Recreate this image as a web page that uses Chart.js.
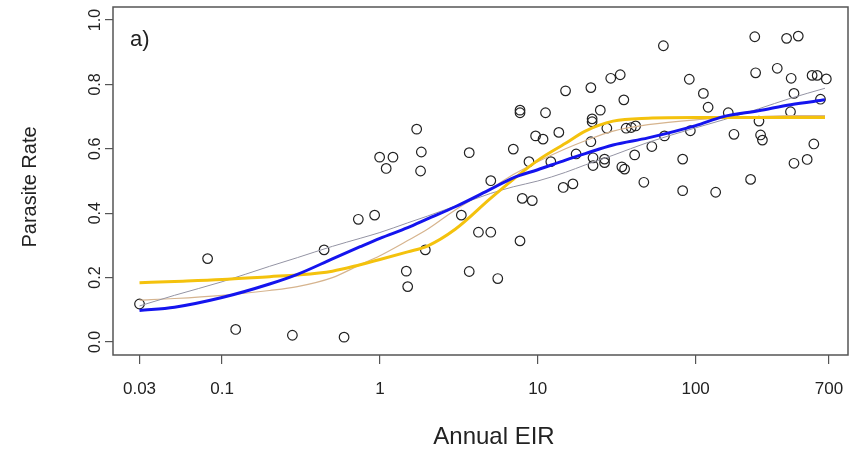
<!DOCTYPE html>
<html>
<head>
<meta charset="utf-8">
<script src="https://cdn.jsdelivr.net/npm/chart.js@4.4.1/dist/chart.umd.min.js"></script>
<style>
  html, body { margin: 0; padding: 0; background: #fff; }
  #wrap { width: 854px; height: 457px; position: relative; }
</style>
</head>
<body>
<div id="wrap"><canvas id="chart"></canvas></div>
<script>
// Observed sites: annual EIR vs parasite rate
const siteEIR = [0.03, 0.081, 0.122, 0.279, 0.593, 0.443, 0.73, 0.926, 0.996, 1.21,
  1.096, 1.71, 1.83, 1.81, 1.94, 1.47, 1.5, 3.28, 3.68, 3.68,
  4.21, 5.04, 5.58, 5.04, 7.72, 7.0, 7.72, 7.72, 7.98, 9.23,
  8.8, 9.69, 10.8, 11.2, 13.6, 15.0, 12.1, 14.5, 16.7, 17.5,
  21.7, 29.0, 33.3, 62.5, 91.2, 35.1, 24.9, 22.1, 22.1, 27.4,
  36.3, 39.1, 41.7, 21.7, 22.4, 22.4, 26.5, 26.5, 34.1, 35.5,
  47.0, 41.1, 52.8, 63.5, 82.8, 82.8, 92.6, 112, 120, 161,
  175, 134, 237, 377, 447, 240, 329, 403, 547, 589,
  673, 420, 399, 252, 258, 265, 561, 509, 420, 223, 618];
const sitePR = [0.118, 0.259, 0.039, 0.021, 0.015, 0.286, 0.381, 0.394, 0.574, 0.574,
  0.539, 0.661, 0.59, 0.531, 0.286, 0.22, 0.172, 0.394, 0.588, 0.219,
  0.341, 0.341, 0.197, 0.501, 0.314, 0.599, 0.72, 0.712, 0.446, 0.439,
  0.56, 0.64, 0.63, 0.712, 0.651, 0.78, 0.56, 0.48, 0.491, 0.584,
  0.79, 0.819, 0.83, 0.92, 0.816, 0.752, 0.72, 0.693, 0.684, 0.664,
  0.664, 0.666, 0.671, 0.622, 0.572, 0.548, 0.568, 0.557, 0.544, 0.537,
  0.496, 0.581, 0.607, 0.64, 0.568, 0.47, 0.656, 0.772, 0.729, 0.712,
  0.645, 0.465, 0.948, 0.943, 0.95, 0.836, 0.85, 0.819, 0.828, 0.828,
  0.817, 0.772, 0.715, 0.686, 0.643, 0.627, 0.615, 0.567, 0.555, 0.505, 0.754];

// Fitted curves, read at these EIR values
const curveEIR = [0.03, 0.05, 0.1, 0.2, 0.3, 0.5, 0.75, 1, 1.5, 2, 3, 5, 7, 10, 15, 20, 30, 50, 100, 150, 250, 400, 660];
const blueFit   = [0.098, 0.108, 0.138, 0.18, 0.21, 0.258, 0.296, 0.322, 0.355, 0.382, 0.42, 0.474, 0.51, 0.535, 0.565, 0.585, 0.612, 0.634, 0.672, 0.7, 0.718, 0.737, 0.752];
const yellowFit = [0.184, 0.188, 0.194, 0.203, 0.208, 0.22, 0.24, 0.256, 0.28, 0.298, 0.35, 0.445, 0.505, 0.564, 0.617, 0.655, 0.686, 0.695, 0.697, 0.697, 0.697, 0.697, 0.697];
const grayFit   = [0.112, 0.145, 0.187, 0.235, 0.262, 0.297, 0.322, 0.34, 0.37, 0.391, 0.422, 0.461, 0.482, 0.5, 0.527, 0.55, 0.58, 0.62, 0.665, 0.69, 0.724, 0.757, 0.788];
const tanFit    = [0.13, 0.135, 0.145, 0.16, 0.172, 0.2, 0.24, 0.268, 0.315, 0.35, 0.41, 0.475, 0.52, 0.56, 0.6, 0.625, 0.655, 0.675, 0.69, 0.695, 0.7, 0.703, 0.703];

const xTicks = [0.03, 0.1, 1, 10, 100, 700];
const yTicks = [0, 0.2, 0.4, 0.6, 0.8, 1.0];

const FONT = '"Liberation Sans", Arial, sans-serif';

function curve(ys, color, width, order) {
    return {
        type: 'line',
        data: curveEIR.map((x, i) => ({ x: x, y: ys[i] })),
        borderColor: color,
        borderWidth: width,
        pointRadius: 0,
        fill: false,
        cubicInterpolationMode: 'monotone',
        order: order
    };
}

// box, rotated y labels, axis titles and panel tag
const decorations = {
    id: 'decorations',
    afterDraw(chart) {
        const ctx = chart.ctx;
        const a = chart.chartArea;
        const ys = chart.scales.y;
        ctx.save();
        ctx.strokeStyle = '#555';
        ctx.lineWidth = 1.5;
        ctx.strokeRect(a.left, a.top, a.right - a.left, a.bottom - a.top);

        ctx.fillStyle = '#222';
        ctx.font = '16px ' + FONT;
        ctx.textAlign = 'center';
        ctx.textBaseline = 'middle';
        yTicks.forEach(v => {
            ctx.save();
            ctx.translate(96, ys.getPixelForValue(v));
            ctx.rotate(-Math.PI / 2);
            ctx.fillText(v.toFixed(1), 0, 0);
            ctx.restore();
        });

        ctx.font = '24px ' + FONT;
        ctx.fillText('Annual EIR', 494, 437);
        ctx.font = '20px ' + FONT;
        ctx.save();
        ctx.translate(30, 187);
        ctx.rotate(-Math.PI / 2);
        ctx.fillText('Parasite Rate', 0, 0);
        ctx.restore();

        ctx.font = '22px ' + FONT;
        ctx.textAlign = 'left';
        ctx.fillText('a)', 130, 40);
        ctx.restore();
    }
};

new Chart(document.getElementById('chart'), {
    type: 'scatter',
    data: {
        datasets: [
            curve(blueFit, '#1414ee', 3, 0),
            curve(yellowFit, '#f4c20d', 3, 1),
            curve(grayFit, '#9494a4', 1, 2),
            curve(tanFit, '#d6b48e', 1.2, 3),
            {
                data: siteEIR.map((x, i) => ({ x: x, y: sitePR[i] })),
                pointRadius: 4.8,
                pointBorderWidth: 1.2,
                pointBorderColor: '#222',
                pointBackgroundColor: 'rgba(0,0,0,0)',
                showLine: false,
                order: 4
            }
        ]
    },
    options: {
        responsive: true,
        maintainAspectRatio: false,
        animation: false,
        layout: { padding: { top: 7, right: -3, left: 0, bottom: 0 } },
        plugins: {
            legend: { display: false },
            tooltip: { enabled: false }
        },
        scales: {
            x: {
                type: 'logarithmic',
                min: 0.02038,
                max: 923.4,
                afterBuildTicks: s => { s.ticks = xTicks.map(v => ({ value: v })); },
                afterFit: s => { s.height = 102; s.paddingLeft = 0; s.paddingRight = 0; },
                border: { display: false },
                grid: { display: true, drawOnChartArea: false, drawTicks: true, tickLength: 9, color: '#555', lineWidth: 1.2 },
                ticks: {
                    autoSkip: false,
                    maxRotation: 0,
                    padding: 15,
                    color: '#222',
                    font: { family: FONT, size: 17 },
                    callback: v => String(v)
                }
            },
            y: {
                min: -0.0404,
                max: 1.0404,
                afterBuildTicks: s => { s.ticks = yTicks.map(v => ({ value: v })); },
                afterFit: s => { s.width = 113; },
                border: { display: false },
                grid: { display: true, drawOnChartArea: false, drawTicks: true, tickLength: 8, color: '#555', lineWidth: 1.2 },
                ticks: { display: false }
            }
        }
    },
    plugins: [decorations]
});
</script>
</body>
</html>
